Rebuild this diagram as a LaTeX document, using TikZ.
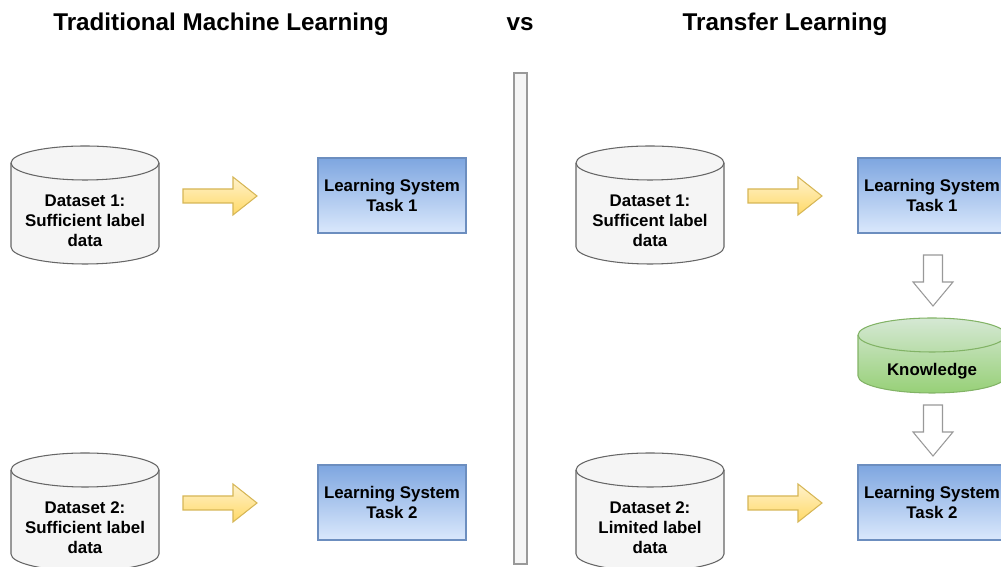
\documentclass[tikz,border=0pt]{standalone}
\usepackage{fontspec}
\setmainfont{Liberation Sans}
\usetikzlibrary{calc, positioning}

\definecolor{cylfill}{HTML}{F5F5F5}
\definecolor{cylline}{HTML}{666666}
\definecolor{boxtop}{HTML}{7EA6E0}
\definecolor{boxbot}{HTML}{DAE8FC}
\definecolor{boxline}{HTML}{6C8EBF}
\definecolor{arrtop}{HTML}{FFF2CC}
\definecolor{arrbot}{HTML}{FFD966}
\definecolor{arrline}{HTML}{D6B656}
\definecolor{kntop}{HTML}{D5E8D4}
\definecolor{knbot}{HTML}{97D077}
\definecolor{knline}{HTML}{82B366}
\definecolor{garline}{HTML}{999999}

\tikzset{
  titletxt/.style={font=\bfseries\fontsize{13.8}{16}\selectfont, inner sep=0pt},
  dbtxt/.style={font=\bfseries\fontsize{9.6}{11.4}\selectfont, align=center, inner sep=0pt},
  lsbox/.style={draw=boxline, top color=boxtop, bottom color=boxbot,
    minimum width=2.96cm, minimum height=1.5cm, inner sep=0pt, align=center,
    font=\bfseries\fontsize{9.6}{11.8}\selectfont},
  cylarc/.style={draw=cylline},
  % database cylinder, #1 = half distance between the two ellipse centres
  dbase/.pic={
    \path[pic actions] (-74,#1) -- (-74,-#1)
      arc[start angle=180, end angle=360, x radius=74, y radius=17]
      -- (74,#1) arc[start angle=0, end angle=180, x radius=74, y radius=17] -- cycle;
    \draw[cylarc] (-74,#1) arc[start angle=180, end angle=360, x radius=74, y radius=17];
  },
  % yellow block arrow, origin at the tail
  yarrow/.pic={
    \draw[draw=arrline, top color=arrtop, bottom color=arrbot]
      (0,7) -- (50,7) -- (50,19) -- (74,0) -- (50,-19) -- (50,-7) -- (0,-7) -- cycle;
  },
  % white block arrow pointing down, origin at the tail
  garrow/.pic={
    \draw[draw=garline, fill=white]
      (-9.5,0) -- (9.5,0) -- (9.5,-27) -- (20,-27) -- (0,-51) -- (-20,-27) -- (-9.5,-27) -- cycle;
  },
}

\begin{document}
\begin{tikzpicture}[x=0.02cm, y=0.02cm, line width=0.6pt]
\useasboundingbox (0,0) rectangle (1001,567);
\clip (0,0) rectangle (1001,567);

% Titles
\node[titletxt] (ttrad) at (221,543) {Traditional Machine Learning};
\node[titletxt] (tvs) at (520,543) {vs};
\node[titletxt] (ttran) at (785,543) {Transfer Learning};

% Separator
\draw[draw=garline, fill=cylfill] (514,3) rectangle (527,494);

% Traditional machine learning
\pic[draw=cylline, fill=cylfill] at (85,362) {dbase=42};
\node[dbtxt] (d1) at (85,346) {Dataset 1:\\Sufficient label\\data};
\pic at (183,371) {yarrow};
\node[lsbox] (t1) at (392,371.5) {Learning System\\Task 1};

\pic[draw=cylline, fill=cylfill] at (85,55) {dbase=42};
\node[dbtxt] (d2) at (85,39) {Dataset 2:\\Sufficient label\\data};
\pic at (183,64) {yarrow};
\node[lsbox] (t2) at (392,64.5) {Learning System\\Task 2};

% Transfer learning
\pic[draw=cylline, fill=cylfill] at (650,362) {dbase=42};
\node[dbtxt] (rd1) at (650,346) {Dataset 1:\\Sufficent label\\data};
\pic at (748,371) {yarrow};
\node[lsbox] (rt1) at (932,371.5) {Learning System\\Task 1};

\pic at (933,312) {garrow};
\pic[draw=knline, top color=kntop, bottom color=knbot, cylarc/.style={draw=knline}] at (932,211.5) {dbase=20.5};
\node[dbtxt] (kn) at (932,196) {Knowledge};
\pic at (933,162) {garrow};

\pic[draw=cylline, fill=cylfill] at (650,55) {dbase=42};
\node[dbtxt] (rd2) at (650,39) {Dataset 2:\\Limited label\\data};
\pic at (748,64) {yarrow};
\node[lsbox] (rt2) at (932,64.5) {Learning System\\Task 2};
\end{tikzpicture}
\end{document}
